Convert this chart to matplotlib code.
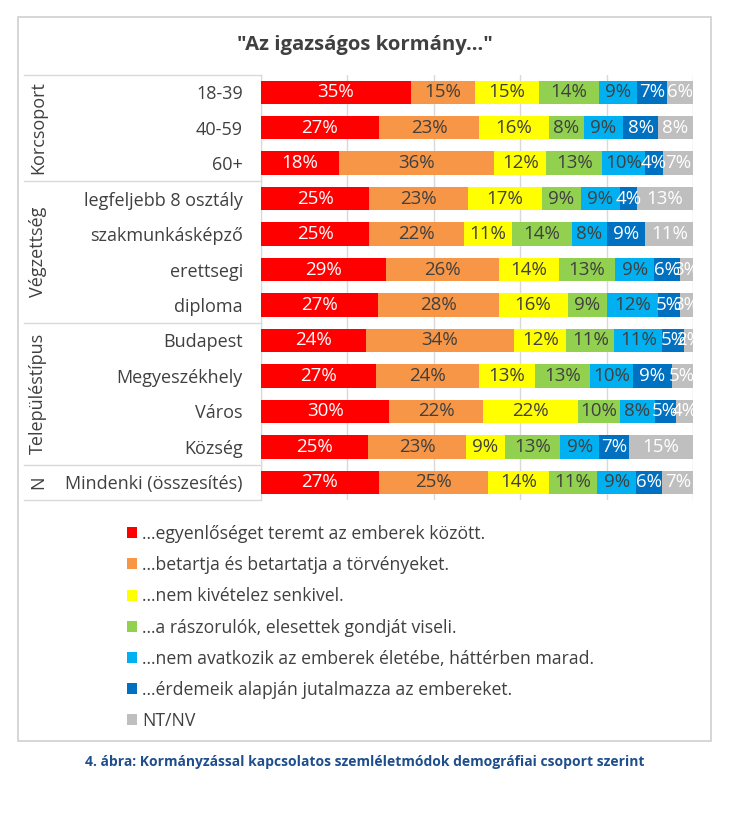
import numpy as np
import matplotlib
matplotlib.use("Agg")
import matplotlib.pyplot as plt
from matplotlib.patches import Patch, Rectangle
from matplotlib.lines import Line2D

plt.rcParams['font.family'] = ['Open Sans', 'DejaVu Sans']

# ---------------- adatok ----------------
categories = ["18-39", "40-59", "60+",
              "legfeljebb 8 osztály", "szakmunkásképző", "erettsegi", "diploma",
              "Budapest", "Megyeszékhely", "Város", "Község",
              "Mindenki (összesítés)"]

series_names = ["...egyenlőséget teremt az emberek között.",
                "...betartja és betartatja a törvényeket.",
                "...nem kivételez senkivel.",
                "...a rászorulók, elesettek gondját viseli.",
                "...nem avatkozik az emberek életébe, háttérben marad.",
                "...érdemeik alapján jutalmazza az embereket.",
                "NT/NV"]

egyenloseg = [35, 27, 18, 25, 25, 29, 27, 24, 27, 30, 25, 27]
torvenyek  = [15, 23, 36, 23, 22, 26, 28, 34, 24, 22, 23, 25]
kivetelez  = [15, 16, 12, 17, 11, 14, 16, 12, 13, 22, 9, 14]
raszorulok = [14, 8, 13, 9, 14, 13, 9, 11, 13, 10, 13, 11]
nem_avatk  = [9, 9, 10, 9, 8, 9, 12, 11, 10, 8, 9, 9]
erdemeik   = [7, 8, 4, 4, 9, 6, 5, 5, 9, 5, 7, 6]
nt_nv      = [6, 8, 7, 13, 11, 3, 3, 2, 5, 4, 15, 7]

groups = ["Korcsoport", "Végzettség", "Településtípus", "N"]
group_sizes = [3, 4, 4, 1]

colors = ['#FF0000', '#F79646', '#FFFF00', '#92D050', '#00B0F0', '#0070C0', '#BFBFBF']
txt_colors = ['white', '#404040', '#404040', '#404040', '#404040', 'white', 'white']
TXT = '#404040'

data = np.array([egyenloseg, torvenyek, kivetelez, raszorulok, nem_avatk, erdemeik, nt_nv], dtype=float)
share = data / data.sum(axis=0) * 100  # 100%-os halmozott sáv

# ---------------- ábra ----------------
W, H = 739, 816
fig = plt.figure(figsize=(W / 100, H / 100), dpi=100)

# keret
fig.patches.append(Rectangle((18 / W, 1 - 741 / H), (711 - 18) / W, (741 - 17) / H,
                             transform=fig.transFigure, fill=False,
                             edgecolor='#D0D0D0', linewidth=1.2))

ax = fig.add_axes([261 / W, 1 - 500 / H, 432 / W, 425.5 / H])

y = np.arange(len(categories))
left = np.zeros(len(categories))
for i in range(len(series_names)):
    ax.barh(y, share[i], left=left, height=0.66, color=colors[i], zorder=3)
    for j in range(len(categories)):
        ax.text(left[j] + share[i][j] / 2, y[j], "%d%%" % data[i][j],
                ha='center', va='center', fontsize=13.5, color=txt_colors[i], zorder=4)
    left += share[i]

ax.set_xlim(0, 100)
ax.set_ylim(len(categories) - 0.5, -0.5)
ax.set_xticks(np.arange(0, 101, 20))
ax.xaxis.grid(True, color='#D9D9D9', linewidth=1, zorder=0)
ax.tick_params(axis='x', length=0, labelbottom=False)
ax.tick_params(axis='y', length=0, labelsize=13, labelcolor=TXT, pad=13)
ax.set_yticks(y)
ax.set_yticklabels(categories)
for s in ['top', 'right', 'bottom']:
    ax.spines[s].set_visible(False)
ax.spines['left'].set_color('#D9D9D9')

# csoport elválasztó vonalak és feliratok
x0 = (24 - 261) / 432
bounds = np.cumsum([0] + group_sizes) - 0.5
for b in bounds:
    ax.add_line(Line2D([x0, 0], [b, b], transform=ax.get_yaxis_transform(),
                       color='#D9D9D9', linewidth=1, clip_on=False))
xg = (38 - 261) / 432
for g, lo, hi in zip(groups, bounds[:-1], bounds[1:]):
    ax.text(xg, (lo + hi) / 2, g, transform=ax.get_yaxis_transform(), rotation=90,
            ha='center', va='center', fontsize=13, color=TXT)

# cím
fig.text(365 / W, 1 - 45 / H, '"Az igazságos kormány..."', ha='center', va='center',
         fontsize=14.6, fontweight='bold', color=TXT)

# jelmagyarázat
handles = [Patch(facecolor=c, edgecolor='none') for c in colors]
leg = fig.legend(handles, series_names, loc='upper left',
                 bbox_to_anchor=(118 / W, 1 - 516 / H), frameon=False,
                 fontsize=12.7, handlelength=0.58, handleheight=0.58,
                 handletextpad=0.3, labelspacing=0.75, borderpad=0)
for t in leg.get_texts():
    t.set_color(TXT)

# ábraaláírás
fig.text(365 / W, 1 - 762 / H,
         '4. ábra: Kormányzással kapcsolatos szemléletmódok demográfiai csoport szerint',
         ha='center', va='center', fontsize=10, fontweight='bold', color='#1F4E8C')

fig.savefig('out.png', dpi=100)
